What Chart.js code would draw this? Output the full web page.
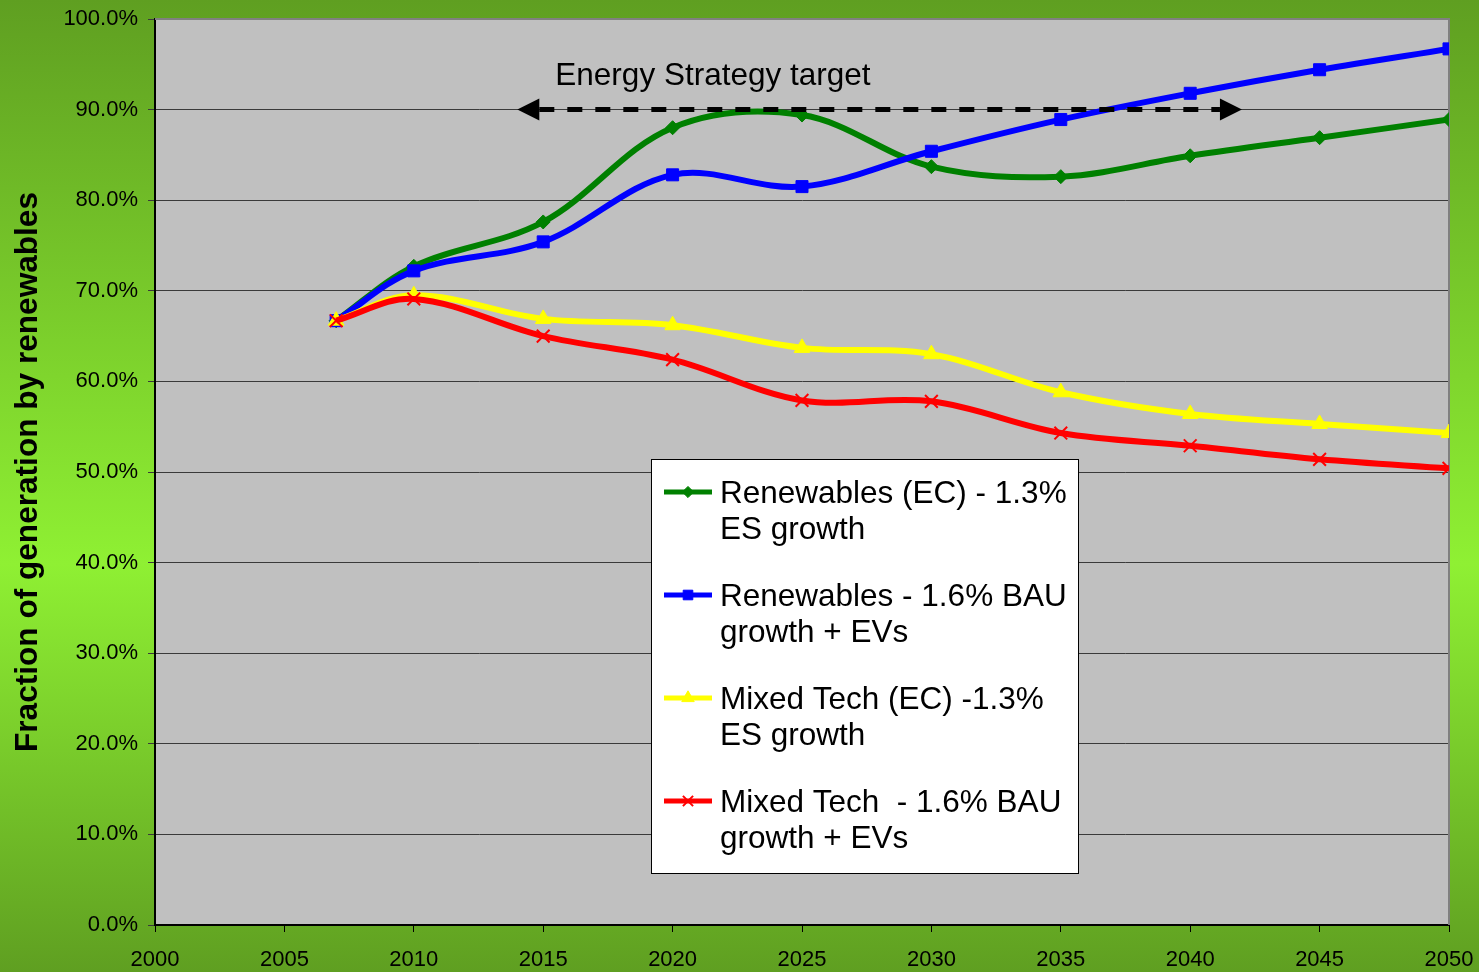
<!DOCTYPE html>
<html>
<head>
<meta charset="utf-8">
<script src="https://cdn.jsdelivr.net/npm/chart.js@4.4.1/dist/chart.umd.min.js"></script>
<style>
  html, body { margin: 0; padding: 0; }
  body { width: 1479px; height: 972px; overflow: hidden;
         background: linear-gradient(to bottom, #5f9f21 0%, #8ff033 58%, #5f9f21 100%); }
  #wrap { position: relative; width: 1479px; height: 972px; }
</style>
</head>
<body>
<div id="wrap"><canvas id="chart" width="1479" height="972"></canvas></div>
<script>
// years on the x axis
const years = [2007, 2010, 2015, 2020, 2025, 2030, 2035, 2040, 2045, 2050];

// fraction of generation by renewables, in percent
const renewablesEC = [66.7, 72.7, 77.6, 88.0, 89.4, 83.7, 82.6, 84.9, 86.9, 88.9];
const renewablesBAU = [66.7, 72.2, 75.4, 82.8, 81.5, 85.4, 88.9, 91.8, 94.4, 96.7];
const mixedEC = [66.7, 69.5, 66.9, 66.2, 63.7, 63.0, 58.8, 56.4, 55.3, 54.3];
const mixedBAU = [66.7, 69.1, 65.0, 62.4, 57.9, 57.8, 54.3, 52.9, 51.4, 50.4];

const seriesLabels = [
    ['Renewables (EC) - 1.3%', 'ES growth'],
    ['Renewables - 1.6% BAU', 'growth + EVs'],
    ['Mixed Tech (EC) -1.3%', 'ES growth'],
    ['Mixed Tech  - 1.6% BAU', 'growth + EVs']
];

// Energy Strategy target arrow
const targetLabel = 'Energy Strategy target';
const targetFrom = 2014;
const targetTo = 2042;
const targetLevel = 90;

const yTitle = 'Fraction of generation by renewables';

function toPoints(values) {
    return values.map(function (v, i) { return { x: years[i], y: v }; });
}

const FONT = '"Liberation Sans", Arial, sans-serif';

// grey plot area with gray top/right border
const plotBackground = {
    id: 'plotBackground',
    beforeDraw: function (chart) {
        const a = chart.chartArea;
        const ctx = chart.ctx;
        ctx.save();
        ctx.fillStyle = '#c0c0c0';
        ctx.fillRect(a.left, a.top, a.right - a.left, a.bottom - a.top);
        ctx.restore();
    },
    beforeDatasetsDraw: function (chart) {
        const a = chart.chartArea;
        const ctx = chart.ctx;
        ctx.save();
        ctx.strokeStyle = '#808080';
        ctx.lineWidth = 2;
        ctx.beginPath();
        ctx.moveTo(a.left, a.top);
        ctx.lineTo(a.right, a.top);
        ctx.lineTo(a.right, a.bottom);
        ctx.stroke();
        ctx.restore();
    }
};

// dashed double arrow with caption
const targetArrow = {
    id: 'targetArrow',
    afterDatasetsDraw: function (chart) {
        const xs = chart.scales.x, ys = chart.scales.y;
        const ctx = chart.ctx;
        const x0 = xs.getPixelForValue(targetFrom);
        const x1 = xs.getPixelForValue(targetTo);
        const y = ys.getPixelForValue(targetLevel);
        const head = 22, half = 11;
        ctx.save();
        ctx.strokeStyle = '#000';
        ctx.lineWidth = 5;
        ctx.setLineDash([15, 13]);
        ctx.beginPath();
        ctx.moveTo(x0 + head, y);
        ctx.lineTo(x1 - head, y);
        ctx.stroke();
        ctx.setLineDash([]);
        ctx.fillStyle = '#000';
        ctx.beginPath();
        ctx.moveTo(x0, y);
        ctx.lineTo(x0 + head, y - half);
        ctx.lineTo(x0 + head, y + half);
        ctx.closePath();
        ctx.fill();
        ctx.beginPath();
        ctx.moveTo(x1, y);
        ctx.lineTo(x1 - head, y - half);
        ctx.lineTo(x1 - head, y + half);
        ctx.closePath();
        ctx.fill();
        ctx.font = '31.5px ' + FONT;
        ctx.textBaseline = 'middle';
        ctx.textAlign = 'left';
        ctx.fillText(targetLabel, x0 + 38, y - 33);
        ctx.restore();
    }
};

// boxed legend with two-line labels
const boxLegend = {
    id: 'boxLegend',
    afterDraw: function (chart) {
        const a = chart.chartArea;
        const ctx = chart.ctx;
        const left = a.left + 496, top = a.top + 440;
        const w = 427, h = 414;
        ctx.save();
        ctx.fillStyle = '#fff';
        ctx.fillRect(left, top, w, h);
        ctx.strokeStyle = '#000';
        ctx.lineWidth = 1;
        ctx.strokeRect(left + 0.5, top + 0.5, w, h);
        chart.data.datasets.forEach(function (ds, i) {
            const cy = top + 33 + i * 103;
            ctx.strokeStyle = ds.borderColor;
            ctx.lineWidth = 5;
            ctx.beginPath();
            ctx.moveTo(left + 13, cy);
            ctx.lineTo(left + 61, cy);
            ctx.stroke();
            ctx.fillStyle = ds.pointBackgroundColor;
            ctx.strokeStyle = ds.pointBorderColor;
            ctx.lineWidth = ds.pointBorderWidth || 1;
            Chart.helpers.drawPoint(ctx, {
                pointStyle: ds.pointStyle,
                radius: ds.pointRadius * 0.8,
                borderWidth: ds.pointBorderWidth || 1
            }, left + 37, cy);
            ctx.font = '31.5px ' + FONT;
            ctx.fillStyle = '#000';
            ctx.textBaseline = 'middle';
            ctx.textAlign = 'left';
            seriesLabels[i].forEach(function (line, j) {
                ctx.fillText(line, left + 69, cy + 2 + j * 36);
            });
        });
        ctx.restore();
    }
};

function makeSet(label, values, color, style, radius, order) {
    return {
        label: label,
        data: toPoints(values),
        borderColor: color,
        backgroundColor: color,
        pointBackgroundColor: color,
        pointBorderColor: color,
        pointStyle: style,
        pointRadius: radius,
        pointBorderWidth: style === 'crossRot' ? 2 : 1,
        borderWidth: 6,
        tension: 0.35,
        fill: false,
        order: order
    };
}

const ctx = document.getElementById('chart').getContext('2d');
const chart = new Chart(ctx, {
    type: 'line',
    data: {
        datasets: [
            makeSet(seriesLabels[0].join(' '), renewablesEC, '#008000', 'rectRot', 7, 4),
            makeSet(seriesLabels[1].join(' '), renewablesBAU, '#0000ff', 'rect', 8.5, 3),
            makeSet(seriesLabels[2].join(' '), mixedEC, '#ffff00', 'triangle', 9, 2),
            makeSet(seriesLabels[3].join(' '), mixedBAU, '#ff0000', 'crossRot', 9, 1)
        ]
    },
    options: {
        responsive: false,
        animation: false,
        devicePixelRatio: 1,
        layout: { padding: { top: 19, right: 30, left: 0, bottom: 0 } },
        scales: {
            x: {
                type: 'linear',
                min: 2000,
                max: 2050,
                afterFit: function (s) {
                    s.height = 47;
                    s.paddingLeft = 0;
                    s.paddingRight = 0;
                },
                ticks: {
                    stepSize: 5,
                    color: '#000',
                    padding: 15,
                    maxRotation: 0,
                    font: { family: FONT, size: 22 },
                    callback: function (v) { return String(v); }
                },
                grid: { drawOnChartArea: false, drawTicks: true, tickLength: 7, color: '#000', tickWidth: 1 },
                border: { color: '#000', width: 2 }
            },
            y: {
                min: 0,
                max: 100,
                afterFit: function (s) {
                    s.width = 155;
                    s.paddingTop = 0;
                    s.paddingBottom = 0;
                },
                ticks: {
                    stepSize: 10,
                    color: '#000',
                    padding: 10,
                    font: { family: FONT, size: 22 },
                    callback: function (v) { return v.toFixed(1) + '%'; }
                },
                grid: { color: '#3a3a3a', lineWidth: 1, tickLength: 7 },
                border: { color: '#000', width: 2 },
                title: {
                    display: true,
                    text: yTitle,
                    color: '#000',
                    font: { family: FONT, size: 31.6, weight: 'bold' },
                    padding: { top: 9, bottom: 0 }
                }
            }
        },
        plugins: {
            legend: { display: false },
            tooltip: { enabled: false }
        }
    },
    plugins: [plotBackground, targetArrow, boxLegend]
});
</script>
</body>
</html>
